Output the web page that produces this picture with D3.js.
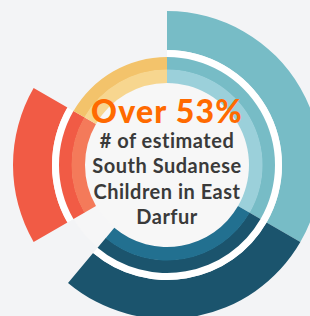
<!DOCTYPE html>
<html>
<head>
<meta charset="utf-8">
<script src="https://cdn.jsdelivr.net/npm/d3@7"></script>
<style>
  body { margin: 0; background: #f3f4f6; }
  svg { display: block; }
</style>
</head>
<body>
<svg width="310" height="316"></svg>
<script>
// segments, angles in degrees clockwise from the top
var segments = ["teal", "navy", "red", "yellow"];
var startDeg = [0, 120, 240, 300];
var endDeg = [120, 220, 300, 360];
var hasOuter = [true, true, true, false];
var darkColor = ["#77bcc6", "#1b546d", "#f15b45", "#f3c36b"];
var lightColor = ["#9bd0da", "#227090", "#f47a5a", "#f7d68f"];

var headline = "Over 53%";
var caption = ["# of estimated", "South Sudanese", "Children in East", "Darfur"];

var svg = d3.select("svg");
var cx = 167, cy = 165;

var angle = d3.scaleLinear().domain([0, 360]).range([0, 2 * Math.PI]);

var data = segments.map(function(d, i) {
  return {name: d, start: angle(startDeg[i]), end: angle(endDeg[i]),
          outer: hasOuter[i], dark: darkColor[i], light: lightColor[i]};
});

var g = svg.append("g")
    .attr("transform", "translate(" + cx + "," + cy + ")");

// faint track and centre disc
g.append("circle").attr("r", 108).attr("fill", "#f6f6f7");
g.append("circle").attr("r", 82).attr("fill", "#f7f7f7");

var outerArc = d3.arc().innerRadius(115).outerRadius(154)
    .startAngle(function(d) { return d.start; }).endAngle(function(d) { return d.end; });
var whiteArc = d3.arc().innerRadius(108).outerRadius(115)
    .startAngle(function(d) { return d.start; }).endAngle(function(d) { return d.end; });
var darkArc = d3.arc().innerRadius(95).outerRadius(108)
    .startAngle(function(d) { return d.start; }).endAngle(function(d) { return d.end; });
var lightArc = d3.arc().innerRadius(82).outerRadius(95.5)
    .startAngle(function(d) { return d.start; }).endAngle(function(d) { return d.end; });

var withOuter = data.filter(function(d) { return d.outer; });

g.selectAll(".outer").data(withOuter).enter()
  .append("path").attr("class", "outer")
    .attr("d", outerArc)
    .attr("fill", function(d) { return d.dark; });

g.selectAll(".white").data(withOuter).enter()
  .append("path").attr("class", "white")
    .attr("d", whiteArc)
    .attr("fill", "#ffffff");

g.selectAll(".dark").data(data).enter()
  .append("path").attr("class", "dark")
    .attr("d", darkArc)
    .attr("fill", function(d) { return d.dark; });

g.selectAll(".light").data(data).enter()
  .append("path").attr("class", "light")
    .attr("d", lightArc)
    .attr("fill", function(d) { return d.light; });

// text
g.append("text")
    .attr("x", 0).attr("y", -42)
    .attr("text-anchor", "middle")
    .attr("fill", "#ff6a00")
    .style("font-family", "Lato, sans-serif")
    .style("font-weight", "900")
    .style("font-size", "32px")
    .style("letter-spacing", "1.2px")
    .text(headline);

g.selectAll(".cap").data(caption).enter()
  .append("text").attr("class", "cap")
    .attr("x", 0)
    .attr("y", function(d, i) { return -17 + i * 25.3; })
    .attr("text-anchor", "middle")
    .attr("fill", "#3a3a3a")
    .style("font-family", "Lato, sans-serif")
    .style("font-weight", "700")
    .style("font-size", "20px")
    .style("letter-spacing", "0.5px")
    .text(function(d) { return d; });
</script>
</body>
</html>
